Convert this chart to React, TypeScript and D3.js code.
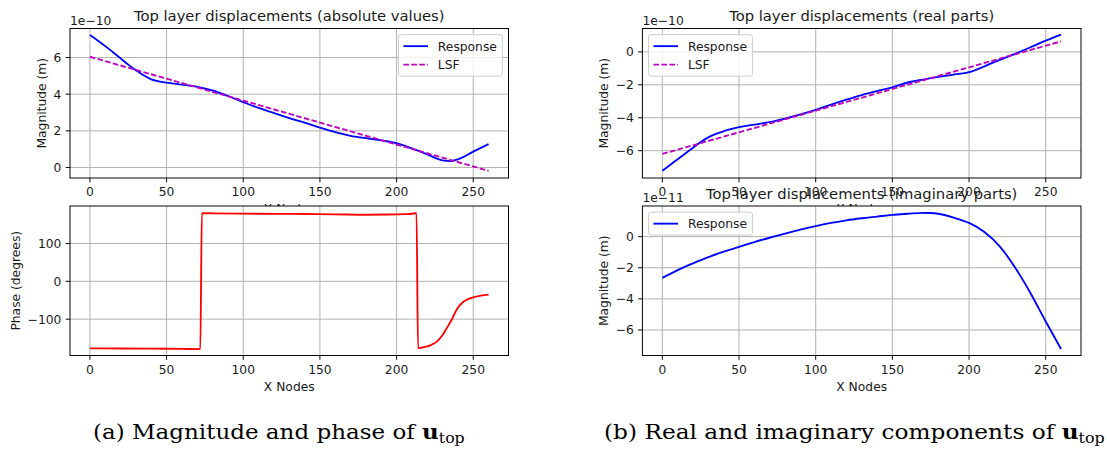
import React, { useLayoutEffect, useRef, useState } from "react";
import * as d3 from "d3";

// ---------- DATA ----------
const xTicks = [0, 50, 100, 150, 200, 250];

const absX = [0, 5, 10, 15, 20, 25, 30, 35, 40, 45, 50, 60, 70, 80, 90, 100, 110, 120, 130, 140, 150, 160, 170, 180, 190, 200, 210, 220, 230, 235, 240, 250, 260];
const absResponse = [7.22, 6.93, 6.62, 6.29, 5.95, 5.61, 5.3, 5.03, 4.81, 4.7, 4.63, 4.52, 4.4, 4.2, 3.9, 3.56, 3.25, 2.97, 2.7, 2.45, 2.18, 1.93, 1.73, 1.6, 1.48, 1.33, 1.04, 0.72, 0.39, 0.35, 0.45, 0.87, 1.28];
const lsfX = [0, 260];
const absLsf = [6.04, -0.18];
const absTicks = [0, 2, 4, 6];

const phaseX = [0, 20, 40, 60, 72, 73, 80, 100, 120, 140, 160, 180, 195, 205, 210, 213, 214, 216, 218, 220, 222, 224, 226, 228, 230, 232, 234, 236, 238, 240, 243, 246, 250, 255, 260];
const phaseY = [-177, -177.5, -178, -178.5, -179, 180, 179.5, 178.8, 178.3, 177.8, 177, 176, 176.5, 177.5, 178.5, 180, -176.5, -175.5, -174, -172, -169, -165, -160, -152, -142, -129, -115, -101, -84, -70, -56, -48, -42.5, -38, -35];
const phaseTicks = [-100, 0, 100];

const realX = [0, 5, 10, 15, 20, 25, 30, 35, 40, 45, 50, 60, 70, 80, 90, 100, 110, 120, 130, 140, 150, 160, 170, 180, 190, 200, 210, 220, 230, 240, 250, 260];
const realResponse = [-7.22, -6.87, -6.52, -6.17, -5.82, -5.48, -5.19, -4.98, -4.82, -4.68, -4.57, -4.42, -4.27, -4.05, -3.8, -3.52, -3.2, -2.9, -2.62, -2.38, -2.15, -1.86, -1.68, -1.52, -1.38, -1.23, -0.88, -0.48, -0.12, 0.28, 0.68, 1.05];
const realLsf = [-6.2, 0.64];
const realTicks = [-6, -4, -2, 0];

const imagX = [0, 10, 20, 30, 40, 50, 60, 70, 80, 90, 100, 110, 120, 130, 140, 150, 160, 170, 175, 180, 190, 200, 210, 220, 230, 240, 250, 260];
const imagResponse = [-2.65, -2.15, -1.72, -1.32, -0.97, -0.65, -0.35, -0.07, 0.2, 0.45, 0.68, 0.88, 1.05, 1.18, 1.29, 1.4, 1.47, 1.53, 1.52, 1.47, 1.22, 0.88, 0.3, -0.62, -1.98, -3.62, -5.45, -7.22];
const imagTicks = [-6, -4, -2, 0];

// ---------- STYLE ----------
const FONT = "'DejaVu Sans', sans-serif";
const F = 12.3;
const TF = 14.76;
const LW = 1.85;
const TXT = "#1a1a1a";
const DASH = "5.55,2.4";

type Series = { x: number[]; y: number[]; color: string; dash?: string; label?: string };
type PanelCfg = {
  left: number; right: number; top: number; bottom: number;
  yDomain: [number, number];
  yTicks: number[];
  series: Series[];
  title?: string;
  ylabel: string;
  xlabel: string;
  offset?: string;
  legend?: "upper right" | "upper left";
};

const minusW = 0.838, digitW = 0.636;
function labelWidth(s: string) {
  let w = 0;
  for (const c of s) w += c === "\u2212" ? minusW : digitW;
  return w * F;
}
const fmt = (v: number) => d3.format("d")(v);

function Panel({ cfg, id }: { cfg: PanelCfg; id: string }) {
  const { left, right, top, bottom } = cfg;
  const x = d3.scaleLinear().domain([-13, 273]).range([left, right]);
  const y = d3.scaleLinear().domain(cfg.yDomain).range([bottom, top]);
  const line = (s: Series) =>
    d3.line<number>().x((_, i) => x(s.x[i])).y((d) => y(d)).curve(d3.curveMonotoneX)(s.y) || "";
  const tickLabels = cfg.yTicks.map(fmt);
  const maxW = Math.max(...tickLabels.map(labelWidth));
  const ylabX = left - 8.6 - maxW - 4.9 - 2.9;
  const cx = (left + right) / 2;
  const legendItems = cfg.series.filter((s) => s.label);
  const handleW = 24.6, bp = 4.92, tp = 9.84;
  const textW = 59.6;
  const lw = bp + handleW + tp + textW + bp;
  const lh = 23 + (legendItems.length - 1) * 18.5;
  const lx = cfg.legend === "upper right" ? right - 6.15 - lw : left + 6.15;
  const ly = top + 6.15;
  return (
    <g>
      <rect x={left} y={top} width={right - left} height={bottom - top} fill="#fff" />
      <clipPath id={id}>
        <rect x={left} y={top} width={right - left} height={bottom - top} />
      </clipPath>
      {xTicks.map((t) => (
        <line key={"gx" + t} x1={x(t)} x2={x(t)} y1={top} y2={bottom} stroke="#b0b0b0" strokeWidth={0.98} />
      ))}
      {cfg.yTicks.map((t) => (
        <line key={"gy" + t} x1={left} x2={right} y1={y(t)} y2={y(t)} stroke="#b0b0b0" strokeWidth={0.98} />
      ))}
      <g clipPath={`url(#${id})`}>
        {cfg.series.map((s, i) => (
          <path key={i} d={line(s)} fill="none" stroke={s.color} strokeWidth={LW} strokeDasharray={s.dash} />
        ))}
      </g>
      <rect x={left} y={top} width={right - left} height={bottom - top} fill="none" stroke="#000" strokeWidth={0.98} />
      {xTicks.map((t) => (
        <g key={"tx" + t}>
          <line x1={x(t)} x2={x(t)} y1={bottom} y2={bottom + 4.3} stroke="#000" strokeWidth={0.98} />
          <text x={x(t)} y={bottom + 18.4} textAnchor="middle" fontFamily={FONT} fontSize={F} fill={TXT}>{fmt(t)}</text>
        </g>
      ))}
      {cfg.yTicks.map((t, i) => (
        <g key={"ty" + t}>
          <line x1={left - 4.3} x2={left} y1={y(t)} y2={y(t)} stroke="#000" strokeWidth={0.98} />
          <text x={left - 8.6} y={y(t) + 4.5} textAnchor="end" fontFamily={FONT} fontSize={F} fill={TXT}>{tickLabels[i]}</text>
        </g>
      ))}
      <text transform={`translate(${ylabX},${(top + bottom) / 2}) rotate(-90)`} textAnchor="middle" fontFamily={FONT} fontSize={F} fill={TXT}>{cfg.ylabel}</text>
      <text x={cx} y={bottom + 35} textAnchor="middle" fontFamily={FONT} fontSize={F} fill={TXT}>{cfg.xlabel}</text>
      {cfg.title && (
        <text x={cx} y={top - 7.4} textAnchor="middle" fontFamily={FONT} fontSize={TF} fill={TXT}>{cfg.title}</text>
      )}
      {cfg.offset && (
        <text x={left} y={top - 4} fontFamily={FONT} fontSize={F} fill={TXT}>{cfg.offset}</text>
      )}
      {cfg.legend && (
        <g>
          <rect x={lx} y={ly} width={lw} height={lh} rx={2.5} fill="#fff" fillOpacity={0.8} stroke="#cccccc" strokeWidth={0.98} />
          {legendItems.map((s, i) => {
            const cy = ly + 11.5 + i * 18.5;
            return (
              <g key={"lg" + i}>
                <line x1={lx + bp} x2={lx + bp + handleW} y1={cy} y2={cy} stroke={s.color} strokeWidth={LW} strokeDasharray={s.dash} />
                <text x={lx + bp + handleW + tp} y={cy + 4.4} fontFamily={FONT} fontSize={F} fill={TXT}>{s.label}</text>
              </g>
            );
          })}
        </g>
      )}
    </g>
  );
}

const L = { left: 70, right: 508.5 };
const R = { left: 642.4, right: 1081 };
const TOP = { top: 28.5, bottom: 178 };
const BOT = { top: 206, bottom: 355.5 };

const panels: PanelCfg[] = [
  {
    ...L, ...TOP, yDomain: [-0.57, 7.58], yTicks: absTicks,
    series: [
      { x: absX, y: absResponse, color: "#0000ff", label: "Response" },
      { x: lsfX, y: absLsf, color: "#bf00bf", dash: DASH, label: "LSF" },
    ],
    title: "Top layer displacements (absolute values)", ylabel: "Magnitude (m)", xlabel: "X Nodes",
    offset: "1e\u221210", legend: "upper right",
  },
  {
    ...L, ...BOT, yDomain: [-196, 199], yTicks: phaseTicks,
    series: [{ x: phaseX, y: phaseY, color: "#ff0000" }],
    ylabel: "Phase (degrees)", xlabel: "X Nodes",
  },
  {
    ...R, ...TOP, yDomain: [-7.66, 1.42], yTicks: realTicks,
    series: [
      { x: realX, y: realResponse, color: "#0000ff", label: "Response" },
      { x: lsfX, y: realLsf, color: "#bf00bf", dash: DASH, label: "LSF" },
    ],
    title: "Top layer displacements (real parts)", ylabel: "Magnitude (m)", xlabel: "X Nodes",
    offset: "1e\u221210", legend: "upper left",
  },
  {
    ...R, ...BOT, yDomain: [-7.64, 1.97], yTicks: imagTicks,
    series: [{ x: imagX, y: imagResponse, color: "#0000ff", label: "Response" }],
    title: "Top layer displacements (imaginary parts)", ylabel: "Magnitude (m)", xlabel: "X Nodes",
    offset: "1e\u221211", legend: "upper left",
  },
];

const CAP_FONT = "'DejaVu Serif', 'Liberation Serif', serif";

function Caption({ x, width, text }: { x: number; width: number; text: string }) {
  const ref = useRef<SVGTextElement>(null);
  const [sx, setSx] = useState(1);
  useLayoutEffect(() => {
    if (ref.current) {
      const w = ref.current.getBBox().width;
      if (w > 0) setSx(width / w);
    }
  }, [width]);
  return (
    <g transform={`translate(${x},0) scale(${sx},1)`}>
      <text ref={ref} x={0} y={439} fontFamily={CAP_FONT} fontSize={20.5} fill="#000">
        {text}<tspan fontWeight="bold">u</tspan>
        <tspan fontSize={14} dy={4.5}>top</tspan>
      </text>
    </g>
  );
}

export default function App() {
  return (
    <svg width={1107} height={450} style={{ position: "absolute", left: 0, top: 0, background: "#fff" }}>
      <rect width={1107} height={450} fill="#fff" />
      <Panel cfg={panels[0]} id="c0" />
      <Panel cfg={panels[2]} id="c2" />
      <Panel cfg={panels[1]} id="c1" />
      <Panel cfg={panels[3]} id="c3" />
      <Caption x={93} width={372} text="(a) Magnitude and phase of " />
      <Caption x={604} width={501} text="(b) Real and imaginary components of " />
    </svg>
  );
}
